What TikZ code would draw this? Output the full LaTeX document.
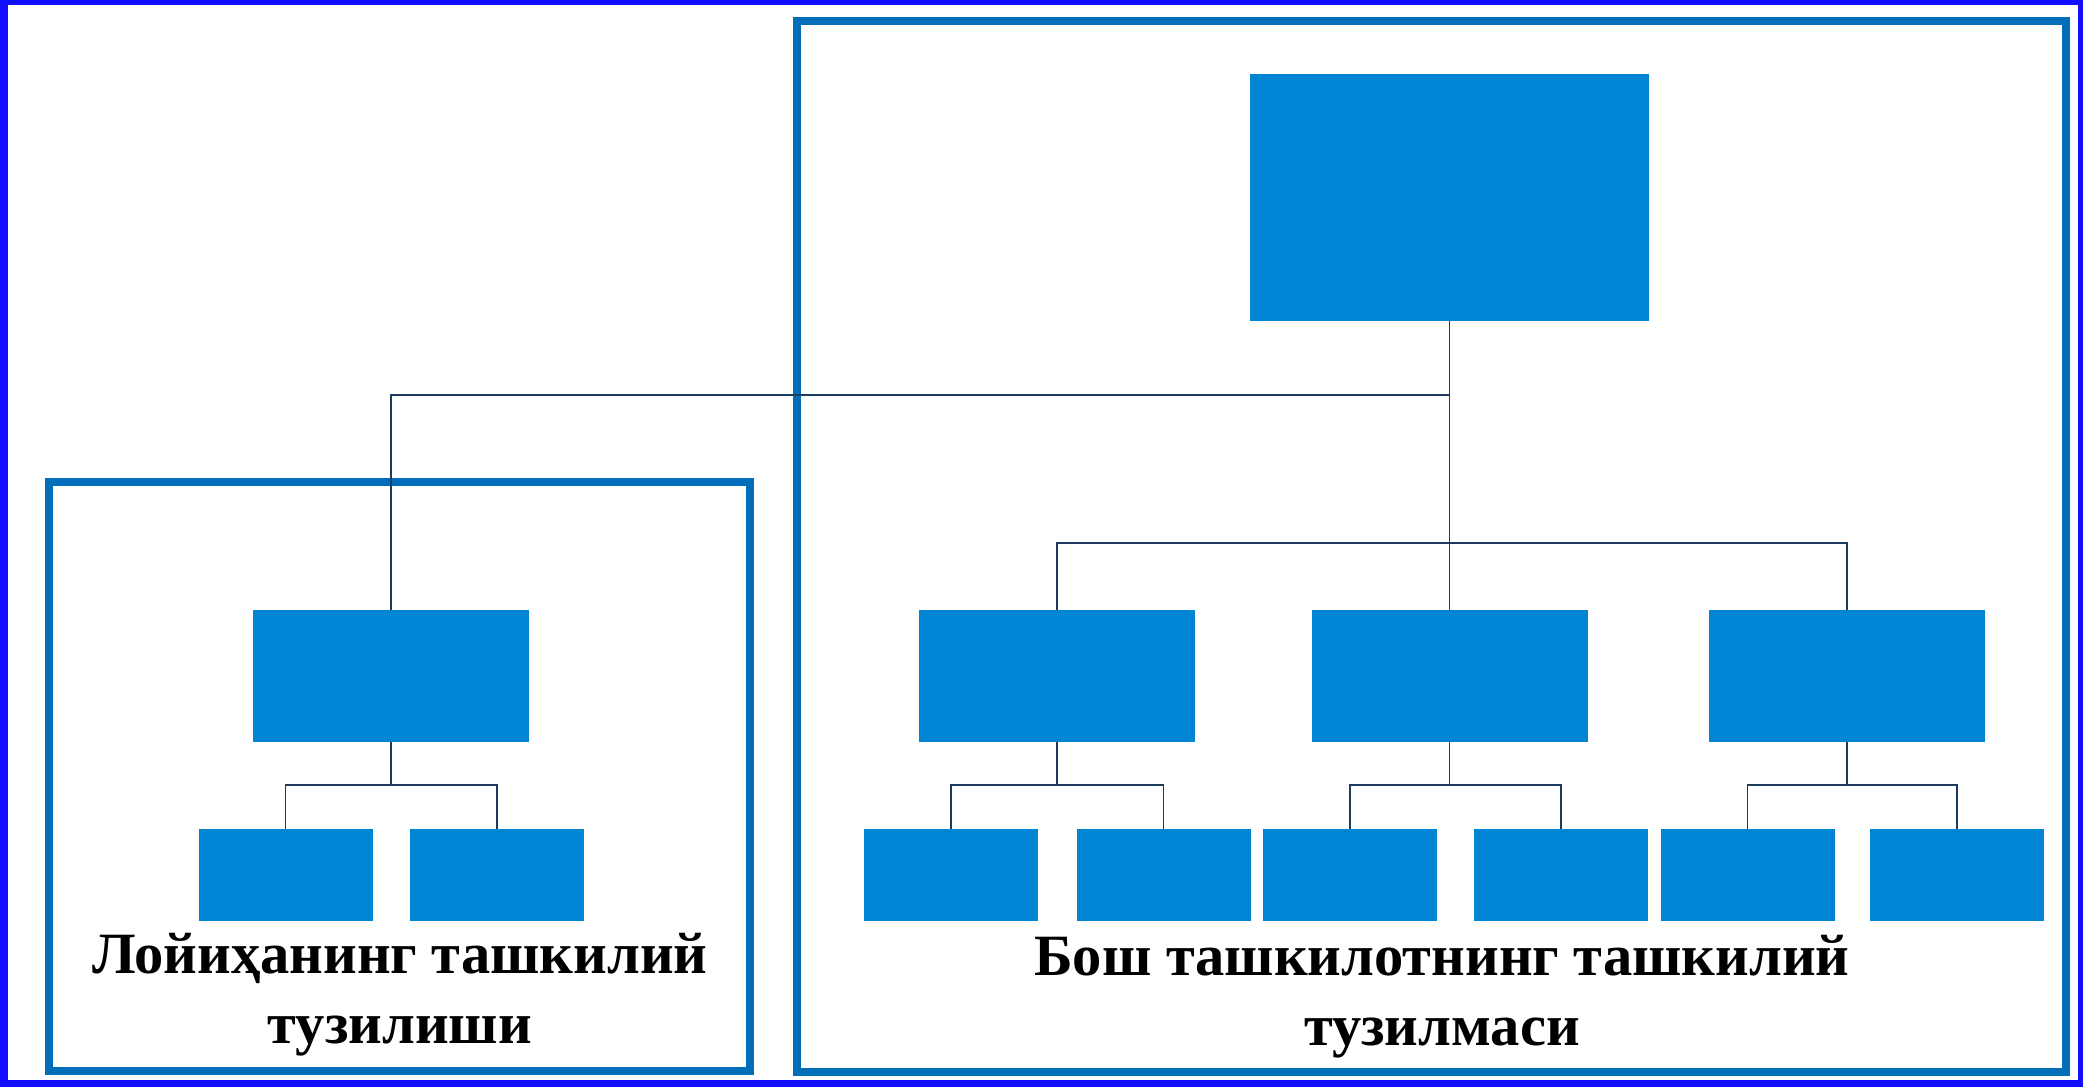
\documentclass[tikz,border=0pt]{standalone}
\usepackage{fontspec}
\setmainfont{Liberation Serif}
\usetikzlibrary{calc}
\definecolor{frameblue}{RGB}{18,14,255}
\definecolor{outlineblue}{RGB}{0,110,185}
\definecolor{boxblue}{RGB}{0,133,212}
\definecolor{linenavy}{RGB}{30,60,95}
\tikzset{
  orgbox/.style={rectangle, fill=boxblue, draw=none, inner sep=0pt},
  topbox/.style={orgbox, minimum width=399pt, minimum height=247pt},
  midbox/.style={orgbox, minimum width=276pt, minimum height=132pt},
  lowbox/.style={orgbox, minimum width=174pt, minimum height=92pt},
  conn/.style={draw=linenavy, line width=1.5pt},
  groupframe/.style={draw=outlineblue, line width=8pt},
  caption/.style={font=\fontsize{58.5}{70}\selectfont\bfseries, align=center, inner sep=0pt, text=black}
}
\begin{document}
\begin{tikzpicture}[x=1pt,y=-1pt]
\useasboundingbox (0,0) rectangle (2083,1087);
% outer frame
\fill[frameblue] (0,0) rectangle (2083,1087);
\fill[white] (8,5) rectangle (2078,1080);
% group frames
\draw[groupframe] (49,481.5) rectangle (750,1071);
\draw[groupframe] (797,21) rectangle (2066,1072);
% boxes
\node[topbox] (top) at (1449.5,197.5) {};
\node[midbox] (L) at (391,676) {};
\node[midbox] (A) at (1057,676) {};
\node[midbox] (B) at (1449.5,676) {};
\node[midbox] (C) at (1847,676) {};
\node[lowbox] (L1) at (285.5,875) {};
\node[lowbox] (L2) at (497,875) {};
\node[lowbox] (A1) at (951,875) {};
\node[lowbox] (A2) at (1163.5,875) {};
\node[lowbox] (B1) at (1350,875) {};
\node[lowbox] (B2) at (1561,875) {};
\node[lowbox] (C1) at (1747.5,875) {};
\node[lowbox] (C2) at (1957,875) {};
% junction coordinates
\coordinate (hL) at ($(top.south)+(0,74)$);
\coordinate (hR) at ($(top.south)+(0,222)$);
% connectors
\draw[conn] (top.south) -- (B.north);
\draw[conn] (L.north) |- (hL);
\draw[conn] (A.north) |- (hR) -| (C.north);
\foreach \p/\a/\b in {L/L1/L2, A/A1/A2, B/B1/B2, C/C1/C2}{
  \draw[conn] (\p.south) -- ++(0,43);
  \draw[conn] (\a.north) |- ($(\p.south)+(0,43)$) -| (\b.north);
}
% captions
\node[caption, anchor=north] (capL) at (400,933) {Лойиҳанинг ташкилий\\тузилиши};
\node[caption, anchor=north] (capR) at (1442,935) {Бош ташкилотнинг ташкилий\\тузилмаси};
\end{tikzpicture}
\end{document}
